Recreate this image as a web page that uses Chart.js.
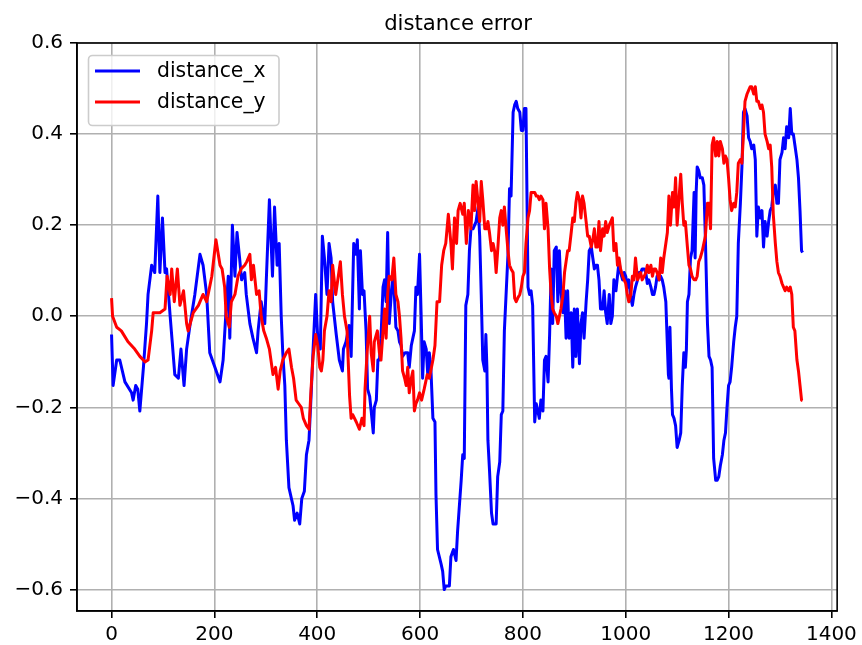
<!DOCTYPE html>
<html>
<head>
<meta charset="utf-8">
<title>distance error</title>
<script src="https://cdn.jsdelivr.net/npm/chart.js@4.4.1/dist/chart.umd.min.js"></script>
<style>
  html, body { margin: 0; padding: 0; background: #ffffff; }
  canvas { display: block; }
</style>
</head>
<body>
<canvas id="chart" width="862" height="645"></canvas>
<script>
// Sample indices and errors for distance_x
const idxX = [
  0, 3, 10, 16, 26, 39, 42, 47, 51, 55, 62, 68, 71, 78, 84, 90, 94, 99, 104, 107,
  114, 118, 123, 130, 135, 141, 146, 153, 162, 172, 178, 185, 191, 201, 211, 217, 222, 227, 230, 235,
  240, 244, 249, 253, 259, 262, 269, 275, 282, 285, 291, 298, 301, 307, 313, 317, 322, 326, 330, 333,
  337, 340, 345, 353, 356, 361, 366, 370, 375, 379, 384, 388, 392, 397, 401, 406, 410, 414, 419, 423,
  427, 430, 437, 443, 449, 451, 456, 462, 466, 471, 476, 478, 482, 484, 488, 491, 495, 498, 502, 505,
  509, 511, 515, 518, 521, 524, 528, 531, 534, 537, 540, 544, 547, 550, 553, 557, 560, 563, 566, 571,
  576, 579, 583, 586, 589, 592, 595, 599, 602, 605, 608, 612, 615, 618, 621, 625, 629, 631, 634, 641,
  644, 647, 650, 657, 660, 665, 670, 673, 676, 680, 683, 686, 689, 693, 696, 699, 703, 709, 713, 716,
  719, 722, 726, 728, 730, 732, 735, 739, 742, 748, 751, 755, 758, 761, 764, 768, 771, 774, 777, 781,
  784, 787, 790, 794, 797, 800, 803, 806, 810, 813, 816, 819, 823, 826, 829, 832, 835, 839, 842, 845,
  849, 852, 855, 858, 861, 865, 868, 871, 874, 878, 881, 884, 887, 890, 894, 897, 900, 903, 906, 910,
  913, 916, 919, 923, 926, 929, 933, 936, 939, 942, 945, 948, 951, 955, 958, 961, 964, 968, 971, 974,
  977, 981, 984, 987, 990, 994, 997, 1000, 1003, 1006, 1010, 1013, 1016, 1019, 1023, 1026, 1029, 1032, 1036, 1039,
  1042, 1045, 1049, 1052, 1055, 1058, 1061, 1065, 1068, 1071, 1074, 1078, 1080, 1083, 1084, 1086, 1089, 1091, 1094, 1097,
  1100, 1104, 1107, 1110, 1113, 1116, 1118, 1120, 1123, 1126, 1129, 1133, 1135, 1137, 1139, 1142, 1145, 1149, 1152, 1155,
  1159, 1162, 1165, 1168, 1171, 1175, 1178, 1181, 1184, 1188, 1191, 1194, 1197, 1200, 1203, 1206, 1210, 1213, 1216, 1219,
  1223, 1226, 1229, 1232, 1236, 1239, 1242, 1245, 1249, 1252, 1255, 1258, 1262, 1265, 1268, 1271, 1275, 1278, 1281, 1284,
  1287, 1291, 1294, 1297, 1300, 1304, 1307, 1310, 1313, 1317, 1320, 1323, 1326, 1329, 1333, 1336, 1339, 1342, 1344
];
const distanceX = [
  -0.040, -0.152, -0.096, -0.096, -0.144, -0.168, -0.184, -0.152, -0.160, -0.208, -0.112, -0.016, 0.048, 0.112, 0.096, 0.264, 0.096, 0.216, 0.096, 0.104,
  0.000, -0.056, -0.128, -0.136, -0.072, -0.152, -0.072, -0.016, 0.048, 0.136, 0.112, 0.048, -0.080, -0.112, -0.144, -0.096, 0.000, 0.088, -0.048, 0.200,
  0.088, 0.184, 0.128, 0.080, 0.096, 0.048, -0.016, -0.048, -0.080, -0.032, 0.032, -0.016, 0.080, 0.256, 0.088, 0.240, 0.112, 0.160, 0.000, -0.080,
  -0.152, -0.272, -0.376, -0.416, -0.448, -0.432, -0.456, -0.400, -0.384, -0.304, -0.272, -0.176, -0.072, 0.048, -0.048, -0.072, 0.176, 0.128, 0.048, 0.160,
  0.128, 0.032, -0.040, -0.096, -0.120, -0.072, -0.056, -0.020, -0.088, 0.160, 0.136, 0.168, 0.016, 0.144, 0.048, 0.056, -0.032, -0.160, -0.176, -0.208,
  -0.256, -0.200, -0.184, -0.096, -0.096, -0.048, 0.064, 0.080, 0.032, 0.184, -0.016, 0.048, 0.088, 0.048, -0.024, -0.032, -0.056, -0.064, -0.088, -0.080,
  -0.080, -0.112, -0.064, -0.048, -0.032, 0.064, 0.048, 0.136, 0.008, -0.136, -0.056, -0.072, -0.128, -0.080, -0.112, -0.224, -0.232, -0.392, -0.512, -0.544,
  -0.560, -0.600, -0.592, -0.592, -0.528, -0.512, -0.536, -0.472, -0.424, -0.360, -0.304, -0.312, 0.024, 0.048, 0.144, 0.192, 0.192, 0.208, 0.240, 0.176,
  0.048, -0.096, -0.120, -0.040, -0.112, -0.272, -0.336, -0.432, -0.456, -0.456, -0.352, -0.320, -0.216, -0.208, -0.032, 0.064, 0.136, 0.280, 0.264, 0.448,
  0.464, 0.472, 0.456, 0.448, 0.408, 0.408, 0.456, 0.456, 0.064, 0.048, 0.056, 0.024, -0.232, -0.192, -0.208, -0.224, -0.184, -0.208, -0.096, -0.088,
  -0.144, -0.040, 0.104, -0.016, 0.144, 0.152, 0.032, 0.144, 0.056, 0.008, 0.056, -0.048, 0.056, -0.048, 0.008, -0.112, 0.016, -0.088, 0.016, -0.104,
  -0.016, 0.008, -0.048, 0.032, 0.080, 0.144, 0.152, 0.128, 0.104, 0.112, 0.112, 0.080, 0.016, 0.016, 0.056, 0.008, -0.016, 0.048, -0.016, 0.000,
  0.080, 0.056, 0.088, 0.120, 0.096, 0.080, 0.096, 0.088, 0.064, 0.080, 0.040, 0.024, 0.048, 0.064, 0.080, 0.096, 0.096, 0.104, 0.104, 0.096,
  0.072, 0.080, 0.064, 0.048, 0.048, 0.064, 0.088, 0.080, 0.088, 0.080, 0.064, 0.032, -0.032, -0.128, -0.136, -0.024, -0.160, -0.216, -0.224, -0.240,
  -0.288, -0.272, -0.256, -0.152, -0.080, -0.112, -0.072, 0.032, 0.048, 0.128, 0.144, 0.272, 0.128, 0.272, 0.328, 0.320, 0.304, 0.304, 0.288, 0.168,
  -0.016, -0.088, -0.096, -0.112, -0.312, -0.360, -0.360, -0.352, -0.328, -0.304, -0.272, -0.256, -0.200, -0.152, -0.144, -0.112, -0.056, -0.024, 0.000, 0.160,
  0.248, 0.328, 0.448, 0.456, 0.440, 0.392, 0.384, 0.368, 0.376, 0.344, 0.176, 0.240, 0.216, 0.232, 0.152, 0.208, 0.176, 0.208, 0.232, 0.240,
  0.272, 0.288, 0.248, 0.248, 0.344, 0.360, 0.392, 0.368, 0.416, 0.392, 0.456, 0.400, 0.400, 0.376, 0.344, 0.304, 0.232, 0.144, 0.140
];

// Sample indices and errors for distance_y
const idxY = [
  0, 2, 10, 19, 32, 45, 55, 65, 71, 78, 81, 94, 104, 108, 114, 117, 122, 128, 133, 140,
  146, 149, 159, 169, 178, 185, 195, 203, 211, 215, 220, 223, 229, 233, 240, 246, 252, 259, 263, 269,
  272, 276, 282, 287, 291, 296, 301, 307, 314, 319, 324, 328, 333, 340, 345, 350, 354, 359, 364, 369,
  373, 379, 384, 388, 392, 397, 401, 405, 408, 411, 414, 419, 423, 427, 430, 436, 440, 445, 449, 453,
  458, 463, 466, 469, 476, 482, 487, 491, 493, 497, 502, 505, 509, 511, 517, 521, 524, 528, 531, 534,
  537, 540, 545, 549, 553, 557, 560, 563, 566, 570, 573, 576, 579, 583, 586, 589, 592, 595, 599, 603,
  608, 614, 618, 625, 629, 633, 638, 642, 646, 650, 655, 660, 663, 667, 671, 674, 678, 683, 686, 690,
  694, 699, 703, 706, 709, 713, 716, 719, 722, 726, 729, 732, 735, 739, 742, 745, 748, 751, 755, 758,
  761, 764, 768, 771, 774, 777, 781, 784, 787, 790, 794, 797, 800, 803, 806, 810, 813, 816, 819, 823,
  826, 829, 832, 835, 839, 842, 845, 849, 852, 855, 858, 861, 865, 868, 871, 874, 878, 881, 884, 887,
  890, 894, 897, 900, 903, 906, 910, 913, 916, 919, 923, 926, 929, 933, 936, 939, 942, 945, 948, 951,
  955, 958, 961, 964, 968, 971, 974, 977, 981, 984, 987, 990, 994, 997, 1000, 1003, 1006, 1010, 1013, 1016,
  1019, 1023, 1026, 1029, 1032, 1036, 1039, 1042, 1045, 1049, 1052, 1055, 1058, 1061, 1065, 1068, 1071, 1074, 1078, 1081,
  1084, 1087, 1091, 1094, 1097, 1100, 1104, 1107, 1110, 1113, 1116, 1120, 1123, 1126, 1129, 1133, 1136, 1139, 1142, 1145,
  1149, 1152, 1155, 1159, 1162, 1165, 1168, 1171, 1175, 1178, 1181, 1184, 1188, 1191, 1194, 1197, 1200, 1203, 1206, 1210,
  1213, 1216, 1219, 1223, 1226, 1229, 1232, 1236, 1239, 1242, 1245, 1249, 1252, 1255, 1258, 1262, 1265, 1268, 1271, 1275,
  1278, 1281, 1284, 1287, 1291, 1294, 1297, 1300, 1304, 1307, 1310, 1313, 1317, 1320, 1323, 1326, 1329, 1333, 1336, 1339,
  1342, 1344
];
const distanceY = [
  0.040, 0.000, -0.024, -0.032, -0.056, -0.072, -0.088, -0.100, -0.096, -0.032, 0.008, 0.008, 0.016, 0.088, 0.048, 0.104, 0.032, 0.104, 0.024, 0.056,
  -0.016, -0.032, 0.008, 0.024, 0.048, 0.032, 0.088, 0.168, 0.112, 0.104, 0.064, 0.000, -0.024, 0.032, 0.048, 0.088, 0.104, 0.112, 0.120, 0.136,
  0.080, 0.112, 0.048, 0.056, 0.000, -0.032, -0.048, -0.072, -0.128, -0.112, -0.160, -0.120, -0.096, -0.080, -0.072, -0.112, -0.136, -0.184, -0.192, -0.200,
  -0.224, -0.240, -0.248, -0.160, -0.088, -0.040, -0.064, -0.112, -0.120, -0.096, -0.032, 0.000, 0.056, 0.032, 0.112, 0.048, 0.080, 0.120, 0.048, 0.000,
  -0.032, -0.176, -0.224, -0.216, -0.232, -0.248, -0.224, -0.240, -0.160, -0.080, 0.000, -0.080, -0.120, -0.056, -0.032, -0.080, -0.096, -0.032, 0.016, -0.048,
  0.048, 0.088, 0.080, 0.128, 0.048, 0.032, 0.000, -0.048, -0.120, -0.136, -0.152, -0.112, -0.168, -0.136, -0.120, -0.208, -0.192, -0.184, -0.168, -0.184,
  -0.160, -0.128, -0.136, -0.096, -0.064, 0.032, 0.032, 0.112, 0.144, 0.160, 0.224, 0.160, 0.104, 0.216, 0.160, 0.232, 0.248, 0.224, 0.248, 0.160,
  0.232, 0.192, 0.288, 0.232, 0.296, 0.248, 0.208, 0.296, 0.256, 0.192, 0.192, 0.208, 0.184, 0.144, 0.160, 0.144, 0.096, 0.144, 0.216, 0.232,
  0.200, 0.240, 0.184, 0.144, 0.112, 0.104, 0.096, 0.040, 0.032, 0.040, 0.048, 0.064, 0.088, 0.096, 0.160, 0.216, 0.232, 0.272, 0.272, 0.272,
  0.264, 0.264, 0.256, 0.264, 0.256, 0.192, 0.248, 0.192, 0.104, 0.048, 0.016, 0.008, 0.000, -0.016, 0.000, 0.016, 0.048, 0.096, 0.120, 0.144,
  0.144, 0.184, 0.216, 0.208, 0.248, 0.272, 0.256, 0.216, 0.264, 0.248, 0.208, 0.176, 0.176, 0.152, 0.168, 0.192, 0.152, 0.152, 0.208, 0.144,
  0.192, 0.176, 0.208, 0.184, 0.200, 0.208, 0.216, 0.144, 0.160, 0.112, 0.128, 0.104, 0.088, 0.080, 0.072, 0.048, 0.032, 0.048, 0.088, 0.080,
  0.128, 0.080, 0.088, 0.096, 0.080, 0.088, 0.096, 0.112, 0.096, 0.112, 0.088, 0.104, 0.104, 0.096, 0.080, 0.128, 0.096, 0.128, 0.160, 0.184,
  0.264, 0.200, 0.272, 0.240, 0.304, 0.200, 0.264, 0.312, 0.248, 0.200, 0.208, 0.152, 0.112, 0.104, 0.088, 0.080, 0.080, 0.088, 0.120, 0.128,
  0.144, 0.160, 0.176, 0.248, 0.248, 0.192, 0.376, 0.392, 0.352, 0.384, 0.352, 0.384, 0.368, 0.336, 0.352, 0.344, 0.304, 0.256, 0.232, 0.248,
  0.240, 0.272, 0.336, 0.344, 0.336, 0.400, 0.472, 0.488, 0.496, 0.504, 0.504, 0.488, 0.504, 0.472, 0.472, 0.456, 0.464, 0.448, 0.400, 0.384,
  0.368, 0.376, 0.328, 0.224, 0.160, 0.120, 0.096, 0.088, 0.072, 0.064, 0.056, 0.064, 0.056, 0.064, 0.048, -0.024, -0.032, -0.096, -0.120, -0.152,
  -0.184, -0.185
];

// Axis ticks
const xTicks = [0, 200, 400, 600, 800, 1000, 1200, 1400];
const yTicks = [-0.6, -0.4, -0.2, 0.0, 0.2, 0.4, 0.6];

const titleText = 'distance error';
const seriesNames = ['distance_x', 'distance_y'];
const seriesColors = ['#0000ff', '#ff0000'];

const FONT = '"DejaVu Sans", "Liberation Sans", sans-serif';

function toPoints(xs, ys) {
  return xs.map((x, i) => ({ x: x, y: ys[i] }));
}

function fmtY(v) {
  const s = Math.abs(v) < 1e-9 ? '0.0' : v.toFixed(1);
  return s.replace('-', '\u2212');
}

// Frame, title and legend drawn on top of the plot
const decorations = {
  id: 'decorations',
  afterDatasetsDraw(chart) {
    const ctx = chart.ctx;
    const a = chart.chartArea;
    ctx.save();

    // top / right spines (left and bottom come from the axis borders)
    ctx.strokeStyle = '#000000';
    ctx.lineWidth = 1.6;
    ctx.strokeRect(a.left, a.top, a.right - a.left, a.bottom - a.top);

    // title
    ctx.fillStyle = '#000000';
    ctx.font = '21.2px ' + FONT;
    ctx.textAlign = 'center';
    ctx.textBaseline = 'alphabetic';
    ctx.fillText(titleText, (a.left + a.right) / 2 + 1, 30);

    // legend box
    const bx = 88.5, by = 55.5, bw = 190.5, bh = 70, r = 4;
    ctx.beginPath();
    ctx.moveTo(bx + r, by);
    ctx.lineTo(bx + bw - r, by);
    ctx.arcTo(bx + bw, by, bx + bw, by + r, r);
    ctx.lineTo(bx + bw, by + bh - r);
    ctx.arcTo(bx + bw, by + bh, bx + bw - r, by + bh, r);
    ctx.lineTo(bx + r, by + bh);
    ctx.arcTo(bx, by + bh, bx, by + bh - r, r);
    ctx.lineTo(bx, by + r);
    ctx.arcTo(bx, by, bx + r, by, r);
    ctx.closePath();
    ctx.fillStyle = 'rgba(255,255,255,0.8)';
    ctx.fill();
    ctx.strokeStyle = '#cccccc';
    ctx.lineWidth = 1.6;
    ctx.stroke();

    const rows = [71, 102];
    ctx.font = '20.4px ' + FONT;
    ctx.textAlign = 'left';
    ctx.textBaseline = 'middle';
    rows.forEach((ry, i) => {
      ctx.beginPath();
      ctx.moveTo(95, ry);
      ctx.lineTo(140, ry);
      ctx.strokeStyle = seriesColors[i];
      ctx.lineWidth = 3;
      ctx.stroke();
      ctx.fillStyle = '#000000';
      ctx.fillText(seriesNames[i], 157, ry + 1);
    });

    ctx.restore();
  }
};

new Chart(document.getElementById('chart'), {
  type: 'line',
  data: {
    datasets: [
      {
        label: seriesNames[0],
        data: toPoints(idxX, distanceX),
        borderColor: seriesColors[0],
        borderWidth: 3,
        pointRadius: 0,
        tension: 0,
        fill: false,
        borderJoinStyle: 'round',
        order: 2
      },
      {
        label: seriesNames[1],
        data: toPoints(idxY, distanceY),
        borderColor: seriesColors[1],
        borderWidth: 3,
        pointRadius: 0,
        tension: 0,
        fill: false,
        borderJoinStyle: 'round',
        order: 1
      }
    ]
  },
  options: {
    responsive: false,
    animation: false,
    devicePixelRatio: 1,
    layout: { padding: { left: 0, right: 22, top: 43, bottom: 0 } },
    plugins: {
      legend: { display: false },
      title: { display: false },
      tooltip: { enabled: false }
    },
    scales: {
      x: {
        type: 'linear',
        min: -67.2,
        max: 1411.2,
        afterBuildTicks: (s) => { s.ticks = xTicks.map(v => ({ value: v })); },
        afterFit: (s) => { s.height = 34; },
        ticks: {
          autoSkip: false,
          maxRotation: 0,
          padding: 5,
          color: '#000000',
          font: { family: FONT, size: 20 },
          callback: (v) => String(v)
        },
        grid: {
          color: '#b0b0b0',
          lineWidth: 1.6,
          tickColor: '#000000',
          tickLength: 7,
          tickWidth: 1.6
        },
        border: { display: true, color: '#000000', width: 1.6 }
      },
      y: {
        type: 'linear',
        min: -0.647,
        max: 0.6,
        afterBuildTicks: (s) => { s.ticks = yTicks.map(v => ({ value: v })); },
        afterFit: (s) => { s.width = 77; },
        ticks: {
          autoSkip: false,
          padding: 7,
          color: '#000000',
          font: { family: FONT, size: 20 },
          callback: (v) => fmtY(v)
        },
        grid: {
          color: '#b0b0b0',
          lineWidth: 1.6,
          tickColor: '#000000',
          tickLength: 7,
          tickWidth: 1.6
        },
        border: { display: true, color: '#000000', width: 1.6 }
      }
    }
  },
  plugins: [decorations]
});
</script>
</body>
</html>
